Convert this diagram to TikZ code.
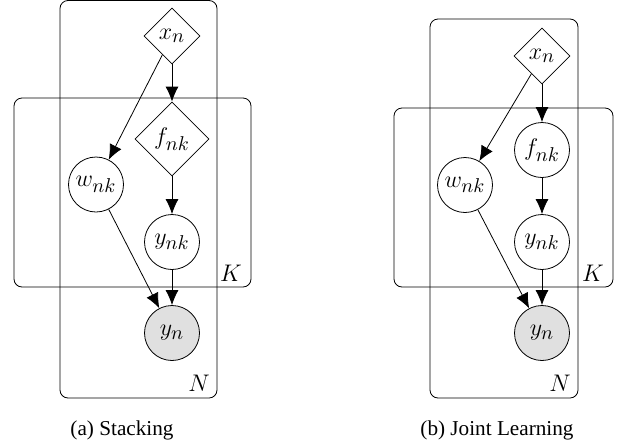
\documentclass[tikz,border=0pt]{standalone}
\usepackage{fontspec}
\newfontfamily\capfont{Liberation Serif}
\DeclareMathSizes{12}{12}{10}{7}
\usetikzlibrary{shapes.geometric,arrows.meta}

\begin{document}
\begin{tikzpicture}[x=0.5pt,y=-0.5pt,
    latent/.style={shape=circle,draw,inner sep=0pt,minimum size=27.5pt},
    obs/.style={latent,fill=black!12},
    det/.style={shape=diamond,draw,inner sep=0pt,aspect=1},
    plate/.style={draw,rounded corners=4pt},
    edge/.style={-{Latex[length=7.5pt,width=6.5pt]}}]
\tikzset{every node/.style={font=\fontsize{12}{14}\selectfont}}
\tikzset{caption/.style={font=\capfont\fontsize{10.6}{13}\selectfont}}
\useasboundingbox (0,0) rectangle (621,440);

% (a) stacking
\draw[plate] (60,0.5) rectangle (217,398);
\draw[plate] (14,98) rectangle (251,287);
\node (Na) at (199,383) {$N$};
\node (Ka) at (231,273) {$K$};
\node[det,minimum size=28pt] (xa) at (172,36) {$x_n$};
\node[det,minimum size=37pt] (fa) at (172,139) {$f_{nk}$};
\node[latent] (wa) at (96,184.5) {$w_{nk}$};
\node[latent] (yka) at (172,242) {$y_{nk}$};
\node[obs] (ya) at (172,333) {$y_n$};
\draw[edge] (xa) -- (fa);
\draw[edge] (xa) -- (wa);
\draw[edge] (fa) -- (yka);
\draw[edge] (wa) -- (ya);
\draw[edge] (yka) -- (ya);
\node[caption] (capa) at (122,430) {(a) Stacking};

% (b) joint learning
\draw[plate] (430,19) rectangle (578,398);
\draw[plate] (394,108) rectangle (613,287);
\node (Nb) at (560,383) {$N$};
\node (Kb) at (593,273) {$K$};
\node[det,minimum size=28pt] (xb) at (542,56) {$x_n$};
\node[latent] (fb) at (542,150) {$f_{nk}$};
\node[latent] (wb) at (465,185) {$w_{nk}$};
\node[latent] (ykb) at (542,242) {$y_{nk}$};
\node[obs] (yb) at (542,333) {$y_n$};
\draw[edge] (xb) -- (fb);
\draw[edge] (xb) -- (wb);
\draw[edge] (fb) -- (ykb);
\draw[edge] (wb) -- (yb);
\draw[edge] (ykb) -- (yb);
\node[caption] (capb) at (497,430) {(b) Joint Learning};
\end{tikzpicture}
\end{document}
